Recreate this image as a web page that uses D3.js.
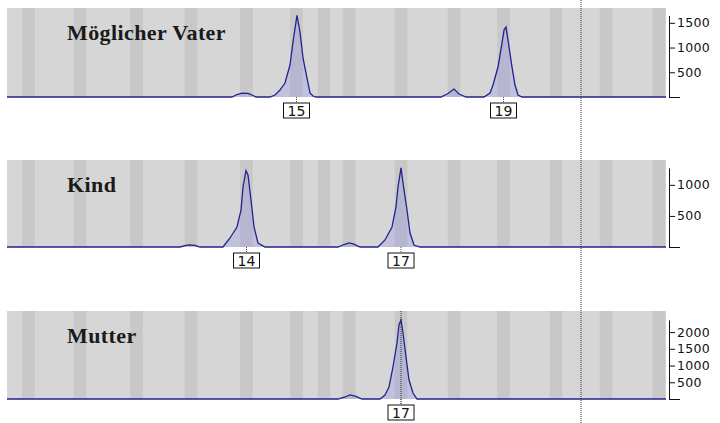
<!DOCTYPE html>
<html>
<head>
<meta charset="utf-8">
<script src="https://cdn.jsdelivr.net/npm/d3@7"></script>
<style>
  body { margin: 0; background: #fff; }
  svg { display: block; }
</style>
</head>
<body>
<div id="chart"></div>
<script>
// allele bins (bp)
const binAlleles = ["10", "11", "12", "13", "14", "15", "15.3", "16", "17", "18", "19", "20", "21", "22"];
const binCenters = [104.3, 114.6, 125.9, 136.8, 147.9, 157.9, 163.4, 168.4, 178.8, 189.4, 199.3, 209.8, 219.8, 230.4];
const binWidth = 2.5;

// traces: size (bp) and signal (RFU)
const vaterBp  = [100, 145.0, 146.0, 147.0, 148.2, 149.2, 149.8, 152.6, 153.6, 154.6, 155.6, 156.6, 157.2, 158.0, 158.6, 159.2, 160.0, 160.6, 161.2, 161.8, 186.8, 188.2, 189.4, 190.4, 191.8, 195.4, 196.6, 197.2, 198.2, 199.0, 199.4, 199.8, 200.2, 201.0, 201.6, 202.2, 203.0, 231.8];
const vaterRfu = [0, 0, 50, 80, 75, 30, 0, 0, 40, 141, 283, 647, 1112, 1650, 1315, 790, 384, 81, 20, 0, 0, 70, 160, 60, 0, 0, 80, 242, 606, 1091, 1353, 1414, 1151, 606, 242, 40, 0, 0];

const kindBp  = [100, 134.6, 135.8, 136.6, 137.6, 138.6, 143.2, 144.6, 146.0, 146.8, 147.2, 147.8, 148.2, 148.8, 149.4, 150.2, 151.6, 166.2, 167.4, 168.4, 169.4, 170.6, 174.2, 175.6, 177.0, 177.8, 178.2, 178.8, 179.2, 180.0, 180.6, 181.4, 182.6, 231.8];
const kindRfu = [0, 0, 25, 35, 25, 0, 0, 145, 322, 595, 966, 1228, 1159, 757, 322, 64, 0, 0, 40, 65, 45, 0, 0, 113, 322, 644, 966, 1272, 1030, 595, 225, 32, 0, 0];

const mutterBp  = [100, 166.2, 167.6, 168.6, 169.8, 171.0, 174.6, 175.6, 176.4, 177.2, 178.0, 178.4, 178.8, 179.2, 179.8, 180.4, 181.2, 182.0, 231.8];
const mutterRfu = [0, 0, 60, 120, 80, 0, 0, 120, 359, 957, 1674, 2213, 2362, 1973, 1256, 568, 179, 0, 0];

const vaterCalls = ["15", "19"];
const kindCalls = ["14", "17"];
const mutterCalls = ["17"];

const panelNames = ["Möglicher Vater", "Kind", "Mutter"];
const panelMax = [1800, 1400, 2630];
const markerBp = 214.8;

const width = 720, height = 423;
const svg = d3.select("#chart").append("svg")
    .attr("width", width)
    .attr("height", height);

const x = d3.scaleLinear().domain([100, 231.8]).range([7, 666]);

const panels = [
    {name: panelNames[0], bp: vaterBp, rfu: vaterRfu, calls: vaterCalls, max: panelMax[0], top: 8, base: 97},
    {name: panelNames[1], bp: kindBp, rfu: kindRfu, calls: kindCalls, max: panelMax[1], top: 160, base: 247},
    {name: panelNames[2], bp: mutterBp, rfu: mutterRfu, calls: mutterCalls, max: panelMax[2], top: 311, base: 399, marker: "17"}
];

panels.forEach(function (p) {
    const y = d3.scaleLinear().domain([0, p.max]).range([p.base, p.top]);
    const g = svg.append("g");
    const pts = p.bp.map((b, i) => [b, p.rfu[i]]);

    g.append("rect")
        .attr("x", x.range()[0])
        .attr("y", p.top)
        .attr("width", x.range()[1] - x.range()[0])
        .attr("height", p.base - p.top)
        .attr("fill", "#d6d6d6");

    g.append("g").selectAll("rect")
        .data(binCenters)
        .enter().append("rect")
            .attr("x", d => x(d - binWidth / 2))
            .attr("y", p.top)
            .attr("width", x(binWidth) - x(0))
            .attr("height", p.base - p.top)
            .attr("fill", "#c8c8c8");

    g.append("text")
        .attr("x", 67)
        .attr("y", p.top + 32)
        .style("font", "bold 22px 'Liberation Serif', serif")
        .style("letter-spacing", "0.4px")
        .attr("fill", "#1a1a1a")
        .text(p.name);

    g.append("path")
        .datum(pts)
        .attr("fill", "rgba(120,120,240,0.22)")
        .attr("d", d3.area().x(d => x(d[0])).y0(y(0)).y1(d => y(d[1])));

    g.append("path")
        .datum(pts)
        .attr("fill", "none")
        .attr("stroke", "#22228e")
        .attr("stroke-width", 1.3)
        .attr("d", d3.line().x(d => x(d[0])).y(d => y(d[1])));

    // y axis runs from 0 up to the highest peak
    const peak = d3.max(p.rfu);
    const ya = y.copy().domain([0, peak]).range([y(0), y(peak)]);
    const tv = d3.range(0, peak, 500);
    const axis = g.append("g")
        .attr("transform", `translate(${x.range()[1] + 3},0)`)
        .call(d3.axisRight(ya).tickValues(tv).tickSize(6).tickSizeOuter(0)
            .tickFormat(d => d === 0 ? "" : d));
    axis.select(".domain").attr("stroke", "#111");
    axis.selectAll(".tick line").attr("stroke", "#111");
    axis.selectAll(".tick").filter(d => d === 0).select("line").attr("x2", 11);
    axis.selectAll(".tick text")
        .attr("x", 8)
        .style("font", "12.5px 'DejaVu Sans', sans-serif")
        .style("letter-spacing", "0.3px")
        .attr("fill", "#111");

    if (p.marker) {
        const mx = x(binCenters[binAlleles.indexOf(p.marker)]);
        g.append("line")
            .attr("x1", mx).attr("x2", mx)
            .attr("y1", p.top).attr("y2", p.base + 6)
            .attr("stroke", "#333")
            .attr("stroke-dasharray", "1,1");
    }

    const call = g.append("g").selectAll("g")
        .data(p.calls)
        .enter().append("g")
            .attr("transform", d => `translate(${x(binCenters[binAlleles.indexOf(d)])},${p.base})`);
    call.append("line")
        .attr("y1", 0).attr("y2", 6)
        .attr("stroke", "#444")
        .attr("stroke-dasharray", "1,1");
    call.append("rect")
        .attr("x", -13).attr("y", 6)
        .attr("width", 26).attr("height", 15)
        .attr("fill", "#fff")
        .attr("stroke", "#111");
    call.append("text")
        .attr("y", 18.5)
        .attr("text-anchor", "middle")
        .style("font", "14px 'DejaVu Sans', sans-serif")
        .attr("fill", "#111")
        .text(d => d);
});

svg.append("line")
    .attr("x1", x(markerBp)).attr("x2", x(markerBp))
    .attr("y1", 0).attr("y2", height)
    .attr("stroke", "#333")
    .attr("stroke-dasharray", "1,1");
</script>
</body>
</html>
